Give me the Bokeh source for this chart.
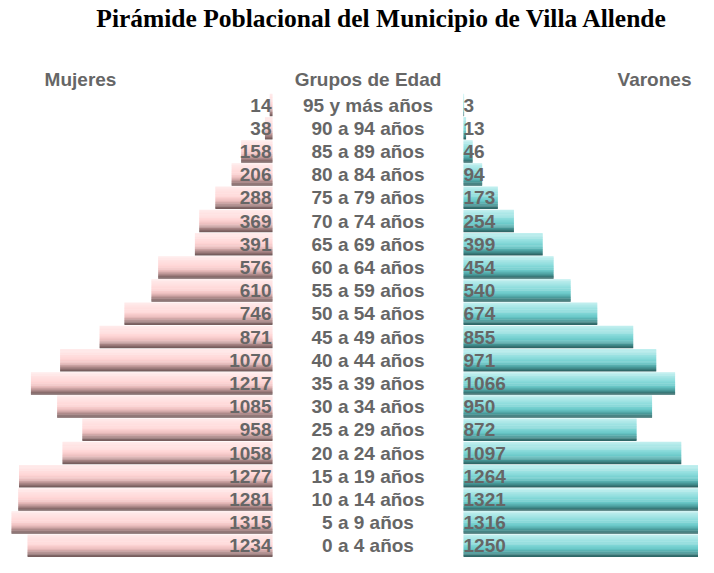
from bokeh.plotting import figure
from bokeh.models import ColumnDataSource, Range1d
from bokeh.embed import file_html
from bokeh.resources import INLINE
from bokeh.core.properties import value

# ---- data (bottom row first) ----
grupos = ["0 a 4 años", "5 a 9 años", "10 a 14 años", "15 a 19 años", "20 a 24 años",
          "25 a 29 años", "30 a 34 años", "35 a 39 años", "40 a 44 años", "45 a 49 años",
          "50 a 54 años", "55 a 59 años", "60 a 64 años", "65 a 69 años", "70 a 74 años",
          "75 a 79 años", "80 a 84 años", "85 a 89 años", "90 a 94 años", "95 y más años"]
mujeres = [1234, 1315, 1281, 1277, 1058, 958, 1085, 1217, 1070, 871,
           746, 610, 576, 391, 369, 288, 206, 158, 38, 14]
varones = [1250, 1316, 1321, 1264, 1097, 872, 950, 1066, 971, 855,
           674, 540, 454, 399, 254, 173, 94, 46, 13, 3]

titulo = "Pirámide Poblacional del Municipio de Villa Allende"
encabezados = ["Mujeres", "Grupos de Edad", "Varones"]

# ---- style / layout ----
W, H = 698, 557
PX_PER_UNIT = 0.1985
CENTER_PX = 367.5
ROW_PX = 23.2
BOTTOM_ROW_PX = 545.3
GAP = 95.5 / PX_PER_UNIT          # half gap between the two sides, in data units
BAR_H = 0.957
N_STRIPS = 20
GRAY = "#666666"
FONT = value("Liberation Sans")

pink_stops = [(0.0, (255, 236, 236)), (0.45, (255, 214, 214)), (0.65, (236, 190, 190)),
              (0.82, (176, 140, 140)), (1.0, (110, 86, 86))]
teal_stops = [(0.0, (196, 240, 240)), (0.40, (140, 220, 220)), (0.65, (104, 200, 200)),
              (0.84, (70, 150, 150)), (1.0, (44, 96, 96))]


def interp(stops, t):
    for (t0, c0), (t1, c1) in zip(stops[:-1], stops[1:]):
        if t0 <= t <= t1:
            f = (t - t0) / (t1 - t0)
            return "#%02x%02x%02x" % tuple(int(round(a + (b - a) * f)) for a, b in zip(c0, c1))
    return "#%02x%02x%02x" % stops[-1][1]


x_start = -CENTER_PX / PX_PER_UNIT
x_end = (W - CENTER_PX) / PX_PER_UNIT
y_start = -(H - BOTTOM_ROW_PX) / ROW_PX
y_end = y_start + H / ROW_PX

p = figure(width=W, height=H, x_range=Range1d(x_start, x_end), y_range=Range1d(y_start, y_end),
           output_backend="svg", toolbar_location=None, min_border=0,
           x_axis_location=None, y_axis_location=None, outline_line_color=None)
p.grid.visible = False

# gradient bars built from horizontal strips
strip_h = BAR_H / N_STRIPS
for side, vals, stops in (("m", mujeres, pink_stops), ("v", varones, teal_stops)):
    ys, lefts, rights, colors = [], [], [], []
    for i, v in enumerate(vals):
        for k in range(N_STRIPS):
            t = (k + 0.5) / N_STRIPS
            ys.append(i + BAR_H / 2 - (k + 0.5) * strip_h)
            if side == "m":
                lefts.append(-GAP - v)
                rights.append(-GAP)
            else:
                lefts.append(GAP)
                rights.append(GAP + v)
            colors.append(interp(stops, t))
    src = ColumnDataSource(dict(y=ys, left=lefts, right=rights, color=colors))
    p.hbar(y="y", left="left", right="right", height=strip_h * 1.3, fill_color="color",
           line_color=None, source=src)

rows = list(range(len(grupos)))
lab = ColumnDataSource(dict(
    y=rows, g=grupos,
    m=[str(v) for v in mujeres], v=[str(v) for v in varones],
    xm=[-GAP] * len(rows), xv=[GAP] * len(rows), xc=[0] * len(rows)))

common = dict(text_font=FONT, text_font_style="bold", text_color=GRAY,
              text_baseline="middle", text_font_size="19px", source=lab)
p.text(x="xc", y="y", text="g", text_align="center", **common)
p.text(x="xm", y="y", text="m", text_align="right", x_offset=-1, **common)
p.text(x="xv", y="y", text="v", text_align="left", x_offset=0, **common)

# headers
head_y = y_end - 79 / ROW_PX
hx = [(80 - CENTER_PX) / PX_PER_UNIT, 0, (654 - CENTER_PX) / PX_PER_UNIT]
hsrc = ColumnDataSource(dict(x=hx, y=[head_y] * 3, t=encabezados))
p.text(x="x", y="y", text="t", text_align="center", text_baseline="middle",
       text_font=FONT, text_font_style="bold", text_color=GRAY, text_font_size="19px",
       source=hsrc)

# title
tsrc = ColumnDataSource(dict(x=[(381.5 - CENTER_PX) / PX_PER_UNIT], y=[y_end - 18 / ROW_PX], t=[titulo]))
p.text(x="x", y="y", text="t", text_align="center", text_baseline="middle",
       text_font=value("Liberation Serif"), text_font_style="bold", text_color="#000000",
       text_font_size="25.5px", source=tsrc)

open("out.html", "w").write(file_html(p, INLINE))
